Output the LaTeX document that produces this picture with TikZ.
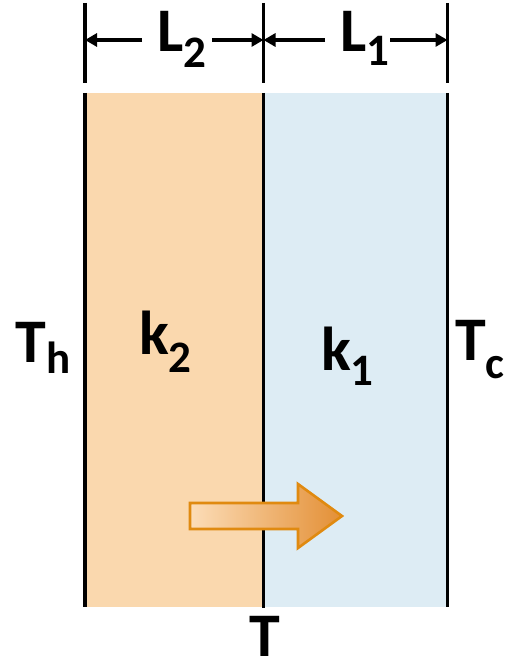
\documentclass[tikz,border=0pt]{standalone}
\usepackage{fontspec}
\setmainfont{Carlito}
\usetikzlibrary{arrows.meta}
\definecolor{peach}{HTML}{FAD8AE}
\definecolor{paleblue}{HTML}{DDECF4}
\definecolor{arrorange}{HTML}{E08A10}
\definecolor{arrlight}{HTML}{FCDDB8}
\definecolor{arrdark}{HTML}{E38F35}
\newcommand{\mylbl}[3]{\fontsize{62}{62}\selectfont\bfseries #1\raisebox{-#3pt}{\fontsize{45}{45}\selectfont #2}}
\tikzset{
  wall/.style={line width=3.6pt, black},
  dimarrow/.style={line width=3.4pt, black, -{Triangle[length=12pt,width=13pt]}},
  lbl/.style={anchor=base west, inner sep=0pt, outer sep=0pt},
  heatarrow/.style={draw=arrorange, line width=2.6pt, left color=arrlight, right color=arrdark, line join=miter}
}
\begin{document}
\begin{tikzpicture}[x=1pt,y=-1pt]
\useasboundingbox (0,0) rectangle (510,663);
% slabs
\fill[peach] (85,93) rectangle (263.5,607);
\fill[paleblue] (263.5,93) rectangle (447.5,607);
% coordinates
\coordinate (lt) at (85,3);   \coordinate (lb) at (85,83);
\coordinate (mt) at (263.5,3); \coordinate (mb) at (263.5,83);
\coordinate (rt) at (447.5,3); \coordinate (rb) at (447.5,83);
\coordinate (ls) at (85,93);   \coordinate (le) at (85,607);
\coordinate (ms) at (263.5,93); \coordinate (me) at (263.5,608);
\coordinate (rs) at (447.5,93); \coordinate (re) at (447.5,607);
% walls
\draw[wall] (lt) -- (lb);
\draw[wall] (mt) -- (mb);
\draw[wall] (rt) -- (rb);
\draw[wall] (ls) -- (le);
\draw[wall] (ms) -- (me);
\draw[wall] (rs) -- (re);
% labels
\node[lbl] (L2) at (157,52) {\mylbl{L}{2}{16}};
\node[lbl] (L1) at (340,52) {\mylbl{L}{1}{14}};
\node[lbl] (Th) at (16,362) {\mylbl{T}{h}{11}};
\node[lbl] (k2) at (139,354) {\mylbl{k}{2}{18}};
\node[lbl] (k1) at (321,370) {\mylbl{k}{1}{15}};
\node[lbl] (Tc) at (455,360) {\mylbl{T}{c}{18}};
\node[lbl] (T) at (249,656) {\fontsize{62}{62}\selectfont\bfseries T};
% dimension arrows
\coordinate (a1) at (142,40); \coordinate (a1t) at (85,40);
\coordinate (a2) at (212,40); \coordinate (a2t) at (263.5,40);
\coordinate (a3) at (325,40); \coordinate (a3t) at (263.5,40);
\coordinate (a4) at (390,40); \coordinate (a4t) at (447.5,40);
\draw[dimarrow] (a1) -- (a1t);
\draw[dimarrow] (a2) -- (a2t);
\draw[dimarrow] (a3) -- (a3t);
\draw[dimarrow] (a4) -- (a4t);
% heat flow arrow
\draw[heatarrow] (190,503) -- (298,503) -- (298,484) -- (342,516) -- (298,548) -- (298,529) -- (190,529) -- cycle;
\end{tikzpicture}
\end{document}
